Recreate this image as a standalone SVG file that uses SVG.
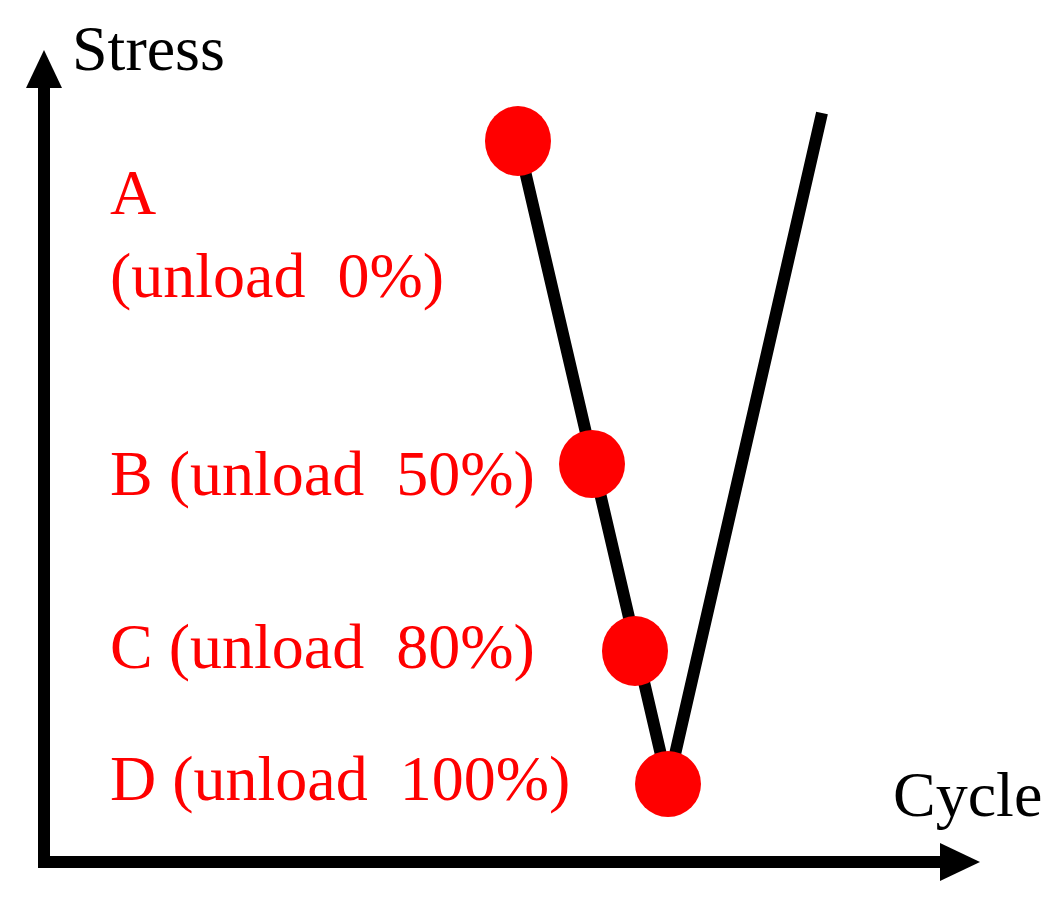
<svg xmlns="http://www.w3.org/2000/svg" width="1061" height="917" viewBox="0 0 1061 917">
<style>
.lbl{font-family:"Liberation Serif","Times New Roman",serif;font-size:64px;fill:#ff0000;white-space:pre}
.ax{font-family:"Liberation Serif","Times New Roman",serif;font-size:64px;fill:#000000}
.axis{fill:none;stroke:#000;stroke-width:12;stroke-linejoin:miter}
.curve{fill:none;stroke:#000;stroke-width:12;stroke-linejoin:round}
.pt{fill:#ff0000}
</style>
<rect width="1061" height="917" fill="#ffffff"/>
<g id="axes">
<path class="axis" d="M44,86 V862 H942"/>
<polygon points="44,50 26,88 62,88" fill="#000"/>
<polygon points="980,862 940,843 940,881" fill="#000"/>
</g>
<g id="connectors">
<polyline class="curve" points="518,141 668,785 822,113"/>
</g>
<g id="node-A"><ellipse class="pt" cx="518" cy="141" rx="33" ry="35"/></g>
<g id="node-B"><ellipse class="pt" cx="592" cy="464" rx="33" ry="34"/></g>
<g id="node-C"><ellipse class="pt" cx="635" cy="651" rx="33" ry="35"/></g>
<g id="node-D"><ellipse class="pt" cx="668" cy="784" rx="33" ry="33"/></g>
<g id="labels">
<text class="ax" x="72" y="70">Stress</text>
<text class="ax" x="893" y="816">Cycle</text>
<text class="lbl" x="110" y="214">A</text>
<text class="lbl" x="110" y="297">(unload  0%)</text>
<text class="lbl" x="110" y="495">B (unload  50%)</text>
<text class="lbl" x="110" y="668">C (unload  80%)</text>
<text class="lbl" x="110" y="800">D (unload  100%)</text>
</g>
</svg>
